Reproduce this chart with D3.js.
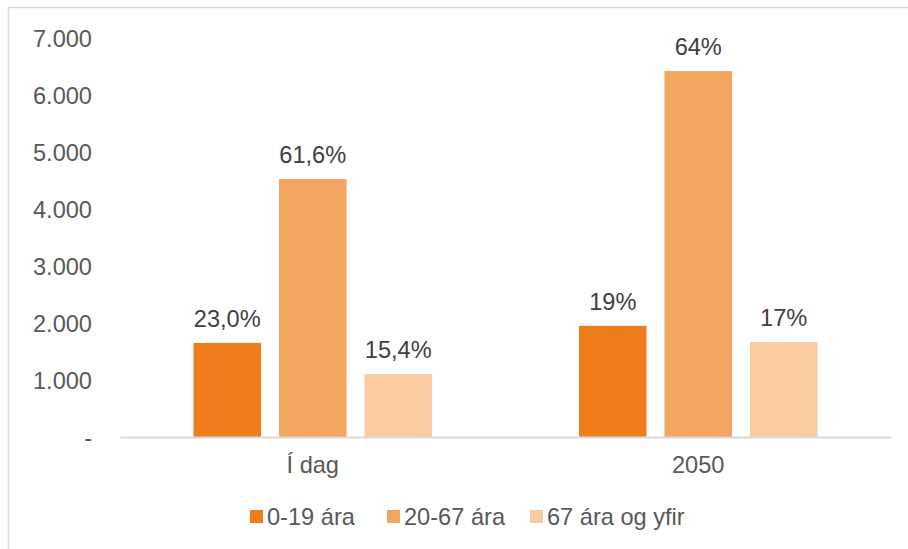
<!DOCTYPE html>
<html><head><meta charset="utf-8">
<script src="https://cdn.jsdelivr.net/npm/d3@7"></script>
<style>html,body{margin:0;padding:0;background:#fff;}svg{display:block;font-family:"Liberation Sans",Arial,sans-serif;}</style>
</head><body>
<svg id="c" width="908" height="549"></svg>
<script>
const categories = ["Í dag", "2050"];
const seriesNames = ["0-19 ára", "20-67 ára", "67 ára og yfir"];
const seriesColors = ["#EF7D1C", "#F4A561", "#F8CBA1"];
const values0_19 = [1650, 1950];
const values20_67 = [4525, 6420];
const values67plus = [1105, 1665];
const labels0_19 = ["23,0%", "19%"];
const labels20_67 = ["61,6%", "64%"];
const labels67plus = ["15,4%", "17%"];
const yTicks = [0, 1000, 2000, 3000, 4000, 5000, 6000, 7000];
const yTickLabels = ["-", "1.000", "2.000", "3.000", "4.000", "5.000", "6.000", "7.000"];

const seriesValues = [values0_19, values20_67, values67plus];
const seriesLabels = [labels0_19, labels20_67, labels67plus];
const FS = "23.6px";

const svg = d3.select("#c");
svg.append("rect").attr("x", 8.5).attr("y", 7.5).attr("width", 1000).attr("height", 1000)
  .attr("fill", "none").attr("stroke", "#D9D9D9").attr("stroke-width", 1.5);

const plotLeft = 120, plotRight = 891, plotTop = 38, plotBottom = 437;
const x0 = d3.scaleBand().domain(categories).range([plotLeft, plotRight]).paddingInner(0).paddingOuter(0);
const x1 = d3.scaleBand().domain(d3.range(3)).range([73.5, x0.bandwidth() - 73.5]).paddingInner(0.21).paddingOuter(0);
const y = d3.scaleLinear().domain([0, 7000]).range([plotBottom, plotTop]);

const yAxis = d3.axisLeft(y).tickValues(yTicks).tickFormat((d, i) => yTickLabels[i]).tickSize(0).tickPadding(0);
const yg = svg.append("g").attr("transform", "translate(92,0)").call(yAxis);
yg.select(".domain").remove();
yg.selectAll("text").attr("fill", "#595959").style("font-size", FS).style("font-family", "Liberation Sans, Arial, sans-serif").attr("dy", "0.35em");

categories.forEach((cat, ci) => {
  seriesValues.forEach((vals, si) => {
    const bx = x0(cat) + x1(si);
    svg.append("rect").attr("x", bx).attr("y", y(vals[ci]))
      .attr("width", x1.bandwidth()).attr("height", y(0) - y(vals[ci]))
      .attr("fill", seriesColors[si]);
    svg.append("text").attr("x", bx + x1.bandwidth() / 2).attr("y", y(vals[ci]) - 16)
      .attr("text-anchor", "middle").attr("fill", "#404040").style("font-size", FS)
      .text(seriesLabels[si][ci]);
  });
});

const xAxis = d3.axisBottom(x0).tickSize(0).tickPadding(0);
const xg = svg.append("g").attr("transform", `translate(0,${plotBottom})`).call(xAxis);
xg.select(".domain").attr("stroke", "#D9D9D9").attr("stroke-width", 2);
xg.selectAll("text").attr("fill", "#595959").style("font-size", FS).style("font-family", "Liberation Sans, Arial, sans-serif").attr("dy", null).attr("y", 36);

const legendX = [250, 387, 530];
seriesNames.forEach((n, i) => {
  const g = svg.append("g").attr("transform", `translate(${legendX[i]},510)`);
  g.append("rect").attr("width", 13).attr("height", 13).attr("fill", seriesColors[i]);
  g.append("text").attr("x", 17).attr("y", 14.5).attr("fill", "#595959").style("font-size", FS).text(n);
});
</script>
</body></html>
